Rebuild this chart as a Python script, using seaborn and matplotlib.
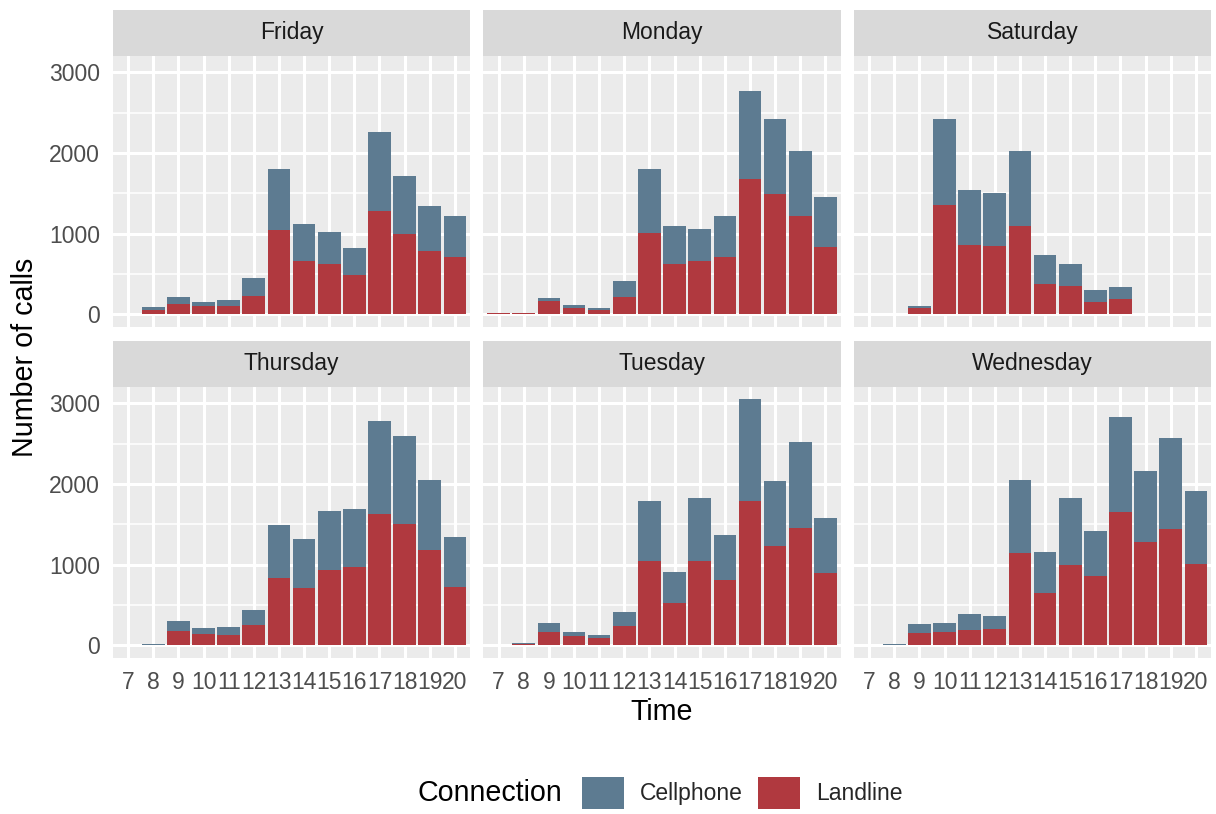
import numpy as np
import pandas as pd
import seaborn as sns
import matplotlib.pyplot as plt
from matplotlib.patches import Patch, Rectangle

# Hours of the day (x axis) and facet panels
hours = list(range(7, 21))
days = ["Friday", "Monday", "Saturday", "Thursday", "Tuesday", "Wednesday"]
connections = ["Cellphone", "Landline"]

# Calls per hour, hours 7..20
landline_friday = [0, 49, 124, 99, 99, 222, 1051, 667, 630, 494, 1286, 1001, 791, 705]
cellphone_friday = [0, 38, 86, 49, 74, 223, 754, 458, 396, 334, 976, 717, 556, 519]

landline_monday = [12, 12, 161, 74, 49, 210, 1014, 630, 667, 705, 1681, 1496, 1224, 841]
cellphone_monday = [0, 0, 37, 37, 25, 198, 791, 470, 396, 519, 1088, 927, 803, 618]

landline_saturday = [0, 0, 74, 1360, 865, 853, 1100, 371, 346, 148, 185, 0, 0, 0]
cellphone_saturday = [0, 0, 25, 1063, 680, 655, 927, 371, 284, 149, 149, 0, 0, 0]

landline_thursday = [0, 8, 181, 144, 131, 255, 834, 711, 933, 970, 1624, 1500, 1180, 723]
cellphone_thursday = [0, 13, 123, 74, 99, 185, 654, 604, 727, 715, 1159, 1097, 875, 617]

landline_tuesday = [0, 21, 169, 119, 95, 242, 1044, 526, 1044, 810, 1796, 1229, 1451, 896]
cellphone_tuesday = [0, 12, 111, 50, 37, 173, 752, 382, 789, 555, 1258, 814, 1073, 678]

landline_wednesday = [8, 8, 156, 169, 193, 206, 1143, 649, 995, 859, 1648, 1278, 1439, 1011]
cellphone_wednesday = [0, 13, 111, 111, 197, 160, 912, 506, 838, 555, 1184, 888, 1134, 908]

landline = [landline_friday, landline_monday, landline_saturday,
            landline_thursday, landline_tuesday, landline_wednesday]
cellphone = [cellphone_friday, cellphone_monday, cellphone_saturday,
             cellphone_thursday, cellphone_tuesday, cellphone_wednesday]

rows = []
for day, land, cell in zip(days, landline, cellphone):
    for h, l, c in zip(hours, land, cell):
        rows.append((day, h, "Cellphone", c))
        rows.append((day, h, "Landline", l))
df = pd.DataFrame(rows, columns=["Day", "Time", "Connection", "Calls"])

palette = {"Cellphone": "#5D7B91", "Landline": "#B0393F"}

sns.set_theme(style="darkgrid", rc={
    "axes.facecolor": "#EBEBEB",
    "grid.color": "white",
    "axes.edgecolor": "none",
    "xtick.color": "#333333",
    "ytick.color": "#333333",
    "xtick.labelcolor": "#4D4D4D",
    "ytick.labelcolor": "#4D4D4D",
})
plt.rcParams["font.family"] = ["Liberation Sans", "DejaVu Sans"]

g = sns.FacetGrid(df, col="Day", col_order=days, col_wrap=3,
                  sharex=True, sharey=True, height=3, aspect=1.3)
g.map_dataframe(sns.histplot, x="Time", weights="Calls", hue="Connection",
                hue_order=connections, palette=palette, multiple="stack",
                discrete=True, shrink=0.9, alpha=1, linewidth=0,
                edgecolor="none", legend=False)

fig = g.figure
fig.set_size_inches(12.16, 8.14)
W, H = 1216, 814
fig.subplots_adjust(left=113 / W, right=1211 / W,
                    top=1 - 55.7 / H, bottom=1 - 657.7 / H,
                    wspace=0.0378, hspace=0.2216)

totals = df.groupby(["Day", "Time"])["Calls"].sum()
ymax = totals.max()
ylim = (-0.05 * ymax, 1.05 * ymax)

strip_h = 45.7 / 270.7
for ax, day in zip(g.axes.flat, days):
    ax.set_title("")
    ax.set_xlabel("")
    ax.set_ylabel("")
    ax.set_xlim(6.4, 20.6)
    ax.set_ylim(*ylim)
    ax.set_xticks(hours)
    ax.set_yticks([0, 1000, 2000, 3000])
    ax.set_yticks([500, 1500, 2500], minor=True)
    ax.grid(which="major", color="white", linewidth=2.2)
    ax.grid(which="minor", axis="y", color="white", linewidth=1.1)
    ax.tick_params(which="major", length=5.2, width=1.4, pad=4.1,
                   labelsize=16.5)
    ax.tick_params(which="minor", length=0)
    for s in ax.spines.values():
        s.set_visible(False)
    ax.add_patch(Rectangle((0, 1), 1, strip_h, transform=ax.transAxes,
                           facecolor="#D9D9D9", edgecolor="none",
                           clip_on=False))
    ax.text(0.5, 1 + strip_h / 2, day, transform=ax.transAxes,
            ha="center", va="center", fontsize=16.5, color="#1A1A1A")

fig.text(662 / W, 1 - 712 / H, "Time", ha="center", va="center",
         fontsize=20.6, color="black")
fig.text(25 / W, 1 - 357 / H, "Number of calls", ha="center", va="center",
         rotation=90, fontsize=20.6, color="black")

handles = [Patch(facecolor=palette[c], edgecolor="none") for c in connections]
fig.legend(handles, connections, loc="center",
           bbox_to_anchor=(742.5 / W, 1 - 793 / H), ncol=2, frameon=False,
           fontsize=16.5, handlelength=1.83, handleheight=1.83,
           handletextpad=0.7, columnspacing=0.65, borderpad=0)
fig.text(562 / W, 1 - 793 / H, "Connection", ha="right", va="center",
         fontsize=20.6, color="black")

fig.savefig("out.png", dpi=100)
